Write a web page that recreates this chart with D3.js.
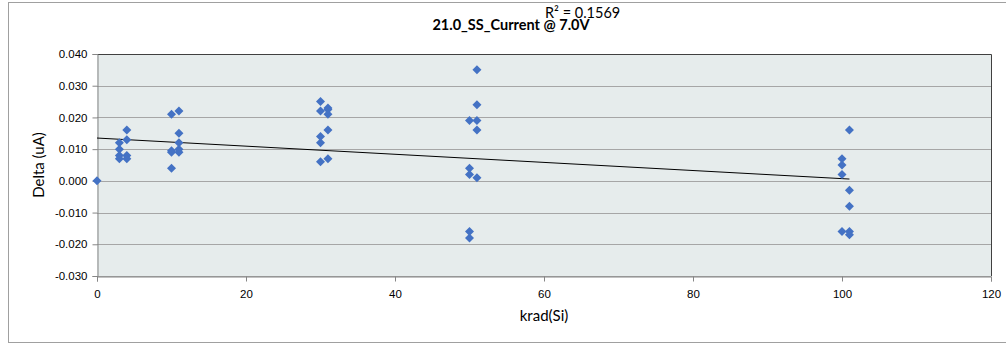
<!DOCTYPE html>
<html>
<head>
<meta charset="utf-8">
<script src="https://cdn.jsdelivr.net/npm/d3@7"></script>
<style>
  body { margin: 0; background: #fff; }
  svg { display: block; font-family: Lato, "Liberation Sans", sans-serif; }
</style>
</head>
<body>
<div id="chart"></div>
<script>
const krad = [0,
  3, 3, 3, 3,
  4, 4, 4, 4,
  10, 10, 10, 10,
  11, 11, 11, 11, 11,
  30, 30, 30, 30, 30,
  31, 31, 31, 31, 31,
  50, 50, 50, 50, 50,
  51, 51, 51, 51, 51,
  100, 100, 100, 100,
  101, 101, 101, 101, 101];
const delta = [0,
  0.012, 0.010, 0.008, 0.007,
  0.016, 0.013, 0.008, 0.007,
  0.021, 0.0095, 0.009, 0.004,
  0.022, 0.015, 0.012, 0.010, 0.009,
  0.025, 0.022, 0.014, 0.012, 0.006,
  0.023, 0.0225, 0.021, 0.016, 0.007,
  0.019, 0.004, 0.002, -0.016, -0.018,
  0.035, 0.024, 0.019, 0.016, 0.001,
  0.007, 0.005, 0.002, -0.016,
  0.016, -0.003, -0.008, -0.016, -0.017];
const xTicks = [0, 20, 40, 60, 80, 100, 120];
const yTicks = [-0.030, -0.020, -0.010, 0.000, 0.010, 0.020, 0.030, 0.040];
// linear trendline as drawn in the original (value at 0 krad, slope per krad)
const trendIntercept = 0.0135;
const trendSlope = -0.000128;
const title = "21.0_SS_Current @ 7.0V";
const rSquaredLabel = "R² = 0.1569";

const width = 1006, height = 346;
const plot = {left: 97, right: 991, top: 54, bottom: 276};

const svg = d3.select("#chart").append("svg")
    .attr("width", width)
    .attr("height", height);

// outer chart border
svg.append("rect")
    .attr("x", 8.5).attr("y", 2.5)
    .attr("width", 1010).attr("height", 340)
    .attr("fill", "#fff")
    .attr("stroke", "#a0a0a0");

const x = d3.scaleLinear().domain([0, 120]).range([plot.left, plot.right]);
const y = d3.scaleLinear().domain([-0.03, 0.04]).range([plot.bottom, plot.top]);

// plot area
svg.append("rect")
    .attr("x", plot.left).attr("y", plot.top)
    .attr("width", plot.right - plot.left)
    .attr("height", plot.bottom - plot.top)
    .attr("fill", "#e6ecec");

// gridlines
svg.append("g").selectAll("line")
    .data(yTicks)
    .join("line")
    .attr("x1", plot.left).attr("x2", plot.right)
    .attr("y1", d => Math.round(y(d)) + 0.5)
    .attr("y2", d => Math.round(y(d)) + 0.5)
    .attr("stroke", "#a6a6a6");

// plot area border (top & right dark)
svg.append("path")
    .attr("d", `M${plot.left},${plot.top + 0.5}H${plot.right + 0.5}V${plot.bottom}`)
    .attr("fill", "none")
    .attr("stroke", "#404040");

// axes
const yAxis = d3.axisLeft(y).tickValues(yTicks).tickSize(5).tickFormat(d => d.toFixed(3));
const gy = svg.append("g").attr("transform", `translate(${plot.left + 0.5},0)`).call(yAxis);
const xAxis = d3.axisBottom(x).tickValues(xTicks).tickSize(5).tickFormat(d3.format("d"));
const gx = svg.append("g").attr("transform", `translate(0,${plot.bottom + 0.5})`).call(xAxis);

[gy, gx].forEach(g => {
    g.select(".domain").attr("stroke", "#868686");
    g.selectAll(".tick line").attr("stroke", "#868686");
    g.selectAll("text").attr("fill", "#000").style("font-size", "11.5px");
});
gy.selectAll("text").attr("x", -10);
gx.selectAll("text").attr("y", 13);

// trendline, from 0 to the last dose
const xMax = d3.max(krad);
svg.append("line")
    .attr("x1", x(0)).attr("y1", y(trendIntercept))
    .attr("x2", x(xMax)).attr("y2", y(trendIntercept + trendSlope * xMax))
    .attr("stroke", "#000")
    .attr("stroke-width", 1);

// diamond markers
const r = 4.5;
svg.append("g").selectAll("path")
    .data(krad.map((k, i) => [k, delta[i]]))
    .join("path")
    .attr("transform", d => `translate(${x(d[0])},${y(d[1])})`)
    .attr("d", `M0,${-r}L${r},0L0,${r}L${-r},0Z`)
    .attr("fill", "#4472c4");

// titles
svg.append("text")
    .attr("x", 511).attr("y", 30)
    .attr("text-anchor", "middle")
    .style("font-size", "14.5px")
    .style("font-weight", "bold")
    .text(title);

svg.append("text")
    .attr("x", 545).attr("y", 18)
    .style("font-size", "14.5px")
    .text(rSquaredLabel);

svg.append("text")
    .attr("x", 544).attr("y", 321)
    .attr("text-anchor", "middle")
    .style("font-size", "15px")
    .text("krad(Si)");

svg.append("text")
    .attr("transform", "translate(44,165) rotate(-90)")
    .attr("text-anchor", "middle")
    .style("font-size", "15px")
    .text("Delta (uA)");
</script>
</body>
</html>
